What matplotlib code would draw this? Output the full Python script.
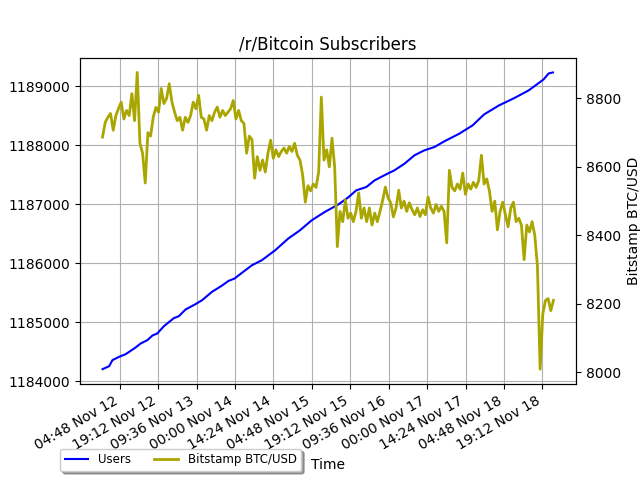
# /r/Bitcoin subscribers vs Bitstamp price
import numpy as np
import pandas as pd
import matplotlib
matplotlib.use("Agg")
import matplotlib.pyplot as plt
import matplotlib.dates as mdates

start = pd.Timestamp("2019-11-11 22:20")

# subscriber counts, hours after start
user_hours = [0, 2.5, 3.7, 6.2, 8.7, 12.4, 14.3, 16.8, 18.7, 20.5, 23.0, 26.7, 28.6,
              31.1, 34.8, 37.3, 41.0, 44.8, 47.2, 49.5, 52.2, 56.0, 59.7, 64.7, 69.6,
              74.0, 78.4, 83.3, 88.3, 92.0, 95.1, 98.9, 102.0, 106.3, 109.4, 113.2,
              116.9, 120.6, 124.4, 128.1, 133.7, 138.7, 143.0, 148.6, 154.1, 159.7,
              165.3, 167.2, 168.8]
user_counts = [1184203, 1184254, 1184356, 1184412, 1184458, 1184571, 1184639, 1184695,
               1184774, 1184808, 1184932, 1185068, 1185102, 1185215, 1185305, 1185373,
               1185514, 1185622, 1185700, 1185741, 1185836, 1185966, 1186051, 1186220,
               1186419, 1186559, 1186729, 1186870, 1186995, 1187114, 1187237, 1187294,
               1187407, 1187508, 1187576, 1187690, 1187831, 1187915, 1187972, 1188068,
               1188198, 1188339, 1188525, 1188678, 1188797, 1188932, 1189118, 1189220,
               1189237]

# hourly Bitstamp BTC/USD
btc_price = [8687, 8730, 8745, 8756, 8707, 8750, 8771, 8789, 8740, 8765,
             8750, 8814, 8735, 8876, 8670, 8640, 8553, 8700, 8690, 8745,
             8774, 8760, 8829, 8785, 8800, 8843, 8790, 8760, 8735, 8745,
             8707, 8745, 8730, 8750, 8789, 8770, 8809, 8745, 8740, 8707,
             8750, 8735, 8760, 8775, 8745, 8765, 8750, 8760, 8770, 8794,
             8740, 8765, 8735, 8727, 8640, 8690, 8680, 8567, 8630, 8590,
             8620, 8585, 8640, 8678, 8625, 8650, 8630, 8645, 8655, 8640,
             8660, 8645, 8669, 8634, 8620, 8576, 8497, 8545, 8530, 8550,
             8540, 8585, 8804, 8620, 8650, 8600, 8684, 8600, 8367, 8470,
             8440, 8503, 8450, 8465, 8440, 8470, 8524, 8450, 8480, 8440,
             8480, 8430, 8465, 8440, 8470, 8503, 8541, 8510, 8495, 8454,
             8480, 8532, 8480, 8500, 8470, 8495, 8475, 8460, 8480, 8455,
             8475, 8460, 8512, 8480, 8465, 8490, 8470, 8485, 8470, 8378,
             8590, 8540, 8530, 8550, 8535, 8582, 8520, 8550, 8535, 8555,
             8540, 8560, 8634, 8550, 8565, 8530, 8470, 8500, 8416, 8470,
             8497, 8460, 8425, 8480, 8497, 8440, 8450, 8430, 8329, 8430,
             8410, 8440, 8400, 8310, 8009, 8170, 8210, 8215, 8180, 8210]

user_times = [start + pd.Timedelta(hours=h) for h in user_hours]
btc_times = pd.date_range(start, periods=len(btc_price), freq="h")

fig, ax1 = plt.subplots(figsize=(6.4, 4.8), dpi=100)
l1, = ax1.plot(user_times, user_counts, color="b", label="Users")
ax1.set_yticks([1184000, 1185000, 1186000, 1187000, 1188000, 1189000])
ax1.ticklabel_format(axis="y", useOffset=False, style="plain")
ax1.grid(True)

ax2 = ax1.twinx()
l2, = ax2.plot(btc_times, btc_price, color="#aaa600", linewidth=2, label="Bitstamp BTC/USD")
ax2.set_yticks([8000, 8200, 8400, 8600, 8800])
ax2.set_ylabel("Bitstamp BTC/USD")

ticks = pd.date_range("2019-11-12 04:48", periods=12, freq="864min")
ax1.set_xticks(ticks)
ax1.xaxis.set_major_formatter(mdates.DateFormatter("%H:%M %b %d"))
ax1.set_xlabel("Time")
ax1.set_title("/r/Bitcoin Subscribers")
fig.autofmt_xdate()

ax2.legend(handles=[l1, l2], loc="upper left", bbox_to_anchor=(-0.052, -0.18),
           ncol=2, shadow=True, fontsize=8.5)

plt.savefig("out.png")
